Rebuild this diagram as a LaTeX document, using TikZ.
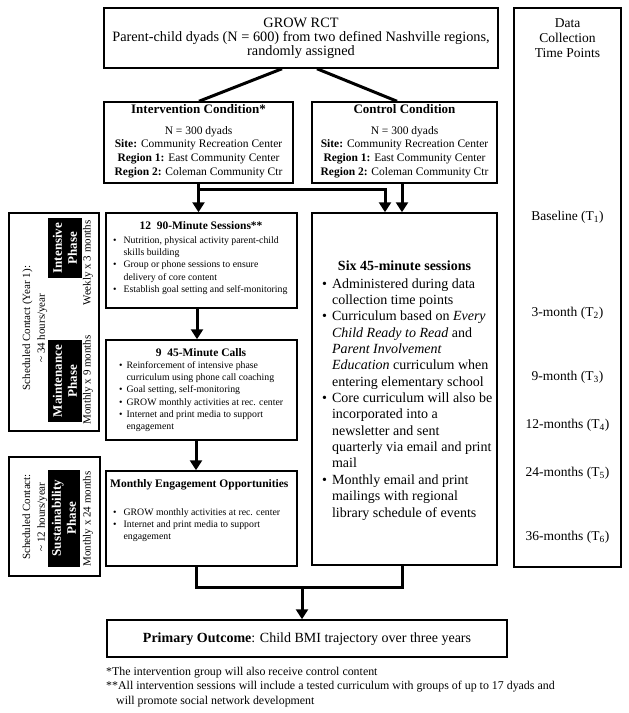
\documentclass[tikz,border=0pt]{standalone}
\usepackage{fontspec}
\setmainfont{Liberation Serif}
\usetikzlibrary{arrows.meta}
\newcommand{\tld}{\textasciitilde}
\begin{document}
\begin{tikzpicture}[x=1pt,y=-1pt]
\tikzset{
  bx/.style={draw, line width=1.5pt, inner sep=0pt},
  ln/.style={line width=3pt},
  ar/.style={line width=3pt, -{Triangle[width=12pt,length=10pt]}},
  blk/.style={fill=black, text=white, inner sep=0pt, rotate=90, align=center, font=\fontsize{13}{15}\selectfont\bfseries},
  rot/.style={rotate=90, inner sep=0pt, font=\fontsize{11}{15}\selectfont},
  ttl/.style={inner sep=0pt, anchor=base, font=\fontsize{11.5}{14}\selectfont\bfseries},
  lst/.style={inner sep=0pt, anchor=base west, font=\fontsize{9.8}{12.2}\selectfont},
  ctr/.style={inner sep=0pt, anchor=base},
}
\useasboundingbox (0,0) rectangle (629,713);

% ---------- boxes ----------
\node[bx, minimum width=394pt, minimum height=60pt] (top) at (301,38) {};
\node[bx, minimum width=189pt, minimum height=81pt] (intv) at (198.5,142.5) {};
\node[bx, minimum width=185pt, minimum height=81pt] (ctrlc) at (404.5,142.5) {};
\node[bx, minimum width=191pt, minimum height=95pt] (intens) at (201.5,260.5) {};
\node[bx, minimum width=191pt, minimum height=100pt] (maint) at (201.5,390) {};
\node[bx, minimum width=191pt, minimum height=95pt] (sust) at (201.5,518.5) {};
\node[bx, minimum width=185pt, minimum height=352pt] (ctrl) at (404.5,389) {};
\node[bx, minimum width=400pt, minimum height=37pt] (outc) at (307,638.5) {};
\node[bx, minimum width=90pt, minimum height=218pt] (yone) at (54,322) {};
\node[bx, minimum width=91pt, minimum height=119pt] (stwo) at (54.5,516.5) {};
\node[bx, minimum width=107pt, minimum height=559pt] (tp) at (567.5,287.5) {};

% ---------- top box text ----------
\node[ctr, font=\fontsize{14.3}{14.2}\selectfont] (topT) at (301,27)
  {\begin{tabular}[t]{@{}c@{}}GROW RCT\\Parent-child dyads (N = 600) from two defined Nashville regions,\\randomly assigned\end{tabular}};

% ---------- condition boxes ----------
\node[ctr, font=\fontsize{13}{15}\selectfont\bfseries] (intvT) at (198.5,113.5) {Intervention Condition*};
\node[ctr, font=\fontsize{11.5}{13.7}\selectfont] (intvL) at (198.5,134)
  {\begin{tabular}[t]{@{}c@{}}N = 300 dyads\\\textbf{Site:} Community Recreation Center\\\textbf{Region 1:} East Community Center\\\textbf{Region 2:} Coleman Community Ctr\end{tabular}};
\node[ctr, font=\fontsize{13}{15}\selectfont\bfseries] (ctrlcT) at (404.5,113.5) {Control Condition};
\node[ctr, font=\fontsize{11.5}{13.7}\selectfont] (ctrlcL) at (404.5,134)
  {\begin{tabular}[t]{@{}c@{}}N = 300 dyads\\\textbf{Site:} Community Recreation Center\\\textbf{Region 1:} East Community Center\\\textbf{Region 2:} Coleman Community Ctr\end{tabular}};

% ---------- intensive ----------
\node[ttl] (intensT) at (201,229) {12\ \ 90-Minute Sessions**};
\node[lst] (intensL) at (113,243.5)
  {\begin{tabular}[t]{@{}l@{\hspace{7pt}}l@{}}\textbullet & Nutrition, physical activity parent-child\\ & skills building\\\textbullet & Group or phone sessions to ensure\\ & delivery of core content\\\textbullet & Establish goal setting and self-monitoring\end{tabular}};

% ---------- maintenance ----------
\node[ttl] (maintT) at (201,356) {9\ \ 45-Minute Calls};
\node[lst] (maintL) at (119,368.5)
  {\begin{tabular}[t]{@{}l@{\hspace{4pt}}l@{}}\textbullet & Reinforcement of intensive phase\\ & curriculum using phone call coaching\\\textbullet & Goal setting, self-monitoring\\\textbullet & GROW monthly activities at rec. center\\\textbullet & Internet and print media to support\\ & engagement\end{tabular}};

% ---------- sustainability ----------
\node[ttl, anchor=base west] (sustT) at (110,487) {Monthly Engagement Opportunities};
\node[lst] (sustL) at (113,515.5)
  {\begin{tabular}[t]{@{}l@{\hspace{7pt}}l@{}}\textbullet & GROW monthly activities at rec. center\\\textbullet & Internet and print media to support\\ & engagement\end{tabular}};

% ---------- control sessions ----------
\node[ctr, font=\fontsize{14}{16}\selectfont\bfseries] (ctrlT) at (404.5,270) {Six 45-minute sessions};
\node[inner sep=0pt, anchor=base west, font=\fontsize{14}{16.36}\selectfont] (ctrlL) at (322,288)
  {\begin{tabular}[t]{@{}l@{\hspace{5pt}}l@{}}\textbullet & Administered during data\\ & collection time points\\\textbullet & Curriculum based on \textit{Every}\\ & \textit{Child Ready to Read} and\\ & \textit{Parent Involvement}\\ & \textit{Education} curriculum when\\ & entering elementary school\\\textbullet & Core curriculum will also be\\ & incorporated into a\\ & newsletter and sent\\ & quarterly via email and print\\ & mail\\\textbullet & Monthly email and print\\ & mailings with regional\\ & library schedule of events\end{tabular}};

% ---------- outcome ----------
\node[inner sep=0pt, font=\fontsize{14}{16}\selectfont] (outcT) at (307,639)
  {\textbf{Primary Outcome}: Child BMI trajectory over three years};

% ---------- footnotes ----------
\node[inner sep=0pt, anchor=base west, font=\fontsize{11.9}{14.5}\selectfont] (foot) at (106,675)
  {\begin{tabular}[t]{@{}l@{}}*The intervention group will also receive control content\\{}**All intervention sessions will include a tested curriculum with groups of up to 17 dyads and\\\hspace{10pt}will promote social network development\end{tabular}};

% ---------- left column ----------
\node[rot] (yoneT) at (34.5,328)
  {\begin{tabular}{@{}c@{}}Scheduled Contact (Year 1):\\\tld\ 34 hours/year\end{tabular}};
\node[blk, minimum width=60pt, minimum height=34pt] (intB) at (65,248) {Intensive\\Phase};
\node[rot] (intW) at (88,263) {Weekly x 3 months};
\node[blk, minimum width=82pt, minimum height=34pt] (maiB) at (65,381) {Maintenance\\Phase};
\node[rot] (maiW) at (88,380) {Monthly x 9 months};

\node[rot] (stwoT) at (34.5,517)
  {\begin{tabular}{@{}c@{}}Scheduled Contact:\\\tld\ 12 hours/year\end{tabular}};
\node[blk, minimum width=97pt, minimum height=32pt] (susB) at (64,518) {Sustainability\\Phase};
\node[rot] (susW) at (88,519) {Monthly x 24 months};

% ---------- time points ----------
\node[ctr, font=\fontsize{13.5}{15}\selectfont] (tpT) at (567.5,27.5)
  {\begin{tabular}[t]{@{}c@{}}Data\\Collection\\Time Points\end{tabular}};
\node[inner sep=0pt, font=\fontsize{13.5}{15}\selectfont] (t1) at (567.5,217) {Baseline (T\textsubscript{1})};
\node[inner sep=0pt, font=\fontsize{13.5}{15}\selectfont] (t2) at (567.5,313) {3-month (T\textsubscript{2})};
\node[inner sep=0pt, font=\fontsize{13.5}{15}\selectfont] (t3) at (567.5,377) {9-month (T\textsubscript{3})};
\node[inner sep=0pt, font=\fontsize{13.5}{15}\selectfont] (t4) at (567.5,425) {12-months (T\textsubscript{4})};
\node[inner sep=0pt, font=\fontsize{13.5}{15}\selectfont] (t5) at (567.5,473) {24-months (T\textsubscript{5})};
\node[inner sep=0pt, font=\fontsize{13.5}{15}\selectfont] (t6) at (567.5,537) {36-months (T\textsubscript{6})};

% ---------- connectors ----------
\draw[ln] (282,0 |- top.south) -- (199,0 |- intv.north);
\draw[ln] (317,0 |- top.south) -- (397,0 |- ctrlc.north);
\coordinate (br) at (198.5,189);
\draw[ar] (intv.south) -- (intv.south |- intens.north);
\draw[ar] (br) -| (385,0 |- ctrl.north);
\draw[ar] (402,0 |- ctrlc.south) -- (402,0 |- ctrl.north);
\draw[ar] (197,0 |- intens.south) -- (197,0 |- maint.north);
\draw[ar] (196,0 |- maint.south) -- (196,0 |- sust.north);
\coordinate (j) at (302,587);
\draw[ln] (196,0 |- sust.south) |- (j);
\draw[ln] (402,0 |- ctrl.south) |- (j);
\draw[ar] (j) -- (j |- outc.north);
\end{tikzpicture}
\end{document}
